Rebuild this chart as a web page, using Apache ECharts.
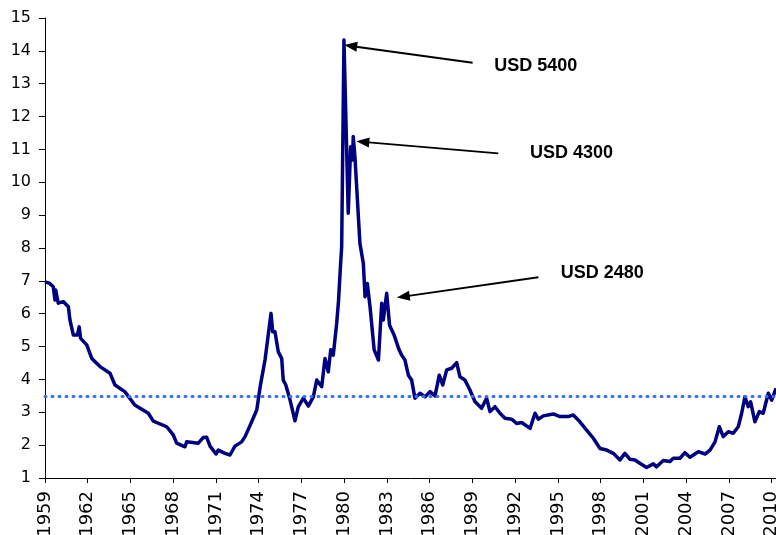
<!DOCTYPE html>
<html>
<head>
<meta charset="utf-8">
<script src="https://cdn.jsdelivr.net/npm/echarts@6/dist/echarts.min.js"></script>
<style>
  html, body { margin: 0; padding: 0; background: #fff; }
  #chart { width: 776px; height: 535px; }
</style>
</head>
<body>
<div id="chart"></div>
<script>
// Price ratio (decimal year, value)
const years = [
  1959.0, 1959.3, 1959.58, 1959.7, 1959.75, 1959.93, 1960.28, 1960.64, 1960.75, 1960.99,
  1961.27, 1961.4, 1961.5, 1961.93, 1962.28, 1962.86, 1963.56, 1963.91, 1964.6, 1965.3,
  1966.25, 1966.6, 1967.54, 1968.0, 1968.24, 1968.82, 1968.94, 1969.76, 1970.1, 1970.35,
  1970.58, 1971.0, 1971.16, 1971.63, 1971.98, 1972.33, 1972.8, 1973.04, 1973.4, 1973.86,
  1974.1, 1974.44, 1974.86, 1974.98, 1975.14, 1975.37, 1975.61, 1975.72, 1975.9, 1976.2,
  1976.54, 1976.78, 1977.13, 1977.48, 1977.83, 1978.07, 1978.42, 1978.65, 1978.88, 1979.05,
  1979.23, 1979.47, 1979.6, 1979.72, 1979.82, 1979.98, 1980.28, 1980.45, 1980.59, 1980.63,
  1980.75, 1981.1, 1981.34, 1981.46, 1981.62, 1981.81, 1982.1, 1982.4, 1982.63, 1982.74,
  1982.98, 1983.18, 1983.5, 1983.85, 1984.03, 1984.26, 1984.5, 1984.73, 1984.96, 1985.32,
  1985.67, 1986.02, 1986.37, 1986.67, 1986.91, 1987.19, 1987.54, 1987.89, 1988.12, 1988.47,
  1988.82, 1989.18, 1989.64, 1989.99, 1990.23, 1990.58, 1990.93, 1991.28, 1991.75, 1992.1,
  1992.45, 1993.04, 1993.39, 1993.62, 1993.97, 1994.67, 1995.14, 1995.72, 1996.07, 1996.54,
  1997.01, 1997.48, 1997.95, 1998.42, 1998.88, 1999.35, 1999.7, 2000.05, 2000.4, 2000.74,
  2001.22, 2001.69, 2001.92, 2002.39, 2002.86, 2003.09, 2003.56, 2003.91, 2004.26, 2004.85,
  2005.32, 2005.67, 2006.02, 2006.32, 2006.6, 2006.95, 2007.3, 2007.65, 2007.89, 2008.12,
  2008.35, 2008.52, 2008.82, 2009.13, 2009.4, 2009.76, 2010.0, 2010.3
]
const values = [
  6.97, 6.93, 6.82, 6.42, 6.72, 6.32, 6.37, 6.21, 5.81, 5.35,
  5.35, 5.6, 5.25, 5.05, 4.64, 4.39, 4.19, 3.83, 3.63, 3.22,
  2.97, 2.73, 2.56, 2.31, 2.06, 1.95, 2.1, 2.06, 2.23, 2.24,
  1.97, 1.73, 1.85, 1.75, 1.7, 1.97, 2.1, 2.26, 2.61, 3.07,
  3.78, 4.59, 6.01, 5.45, 5.45, 4.84, 4.64, 3.98, 3.83, 3.37,
  2.74, 3.17, 3.43, 3.19, 3.47, 3.98, 3.78, 4.64, 4.23, 4.9,
  4.74, 5.71, 6.4, 7.33, 8.04, 14.33, 9.06, 11.08, 10.68, 11.39,
  10.78, 8.14, 7.53, 6.52, 6.92, 6.21, 4.9, 4.59, 6.32, 5.81,
  6.62, 5.65, 5.35, 4.9, 4.74, 4.59, 4.13, 3.98, 3.43, 3.58,
  3.47, 3.63, 3.5, 4.13, 3.83, 4.29, 4.34, 4.51, 4.08, 3.98,
  3.68, 3.32, 3.12, 3.43, 3.02, 3.17, 2.97, 2.82, 2.79, 2.66,
  2.69, 2.51, 2.97, 2.79, 2.89, 2.95, 2.87, 2.87, 2.92, 2.71,
  2.46, 2.21, 1.9, 1.85, 1.75, 1.55, 1.75, 1.57, 1.55, 1.45,
  1.32, 1.43, 1.34, 1.53, 1.5, 1.6, 1.6, 1.77, 1.63, 1.8,
  1.73, 1.85, 2.1, 2.56, 2.26, 2.41, 2.36, 2.56, 2.97, 3.47,
  3.17, 3.32, 2.71, 3.02, 2.97, 3.58, 3.37, 3.73
]
const average = 3.5

// Annotation texts with arrow tail / tip in data coordinates
const noteLabels = ['USD 5400', 'USD 4300', 'USD 2480']
const noteTextAt = [[1990.53, 13.54], [1993.04, 10.88], [1995.19, 7.23]]
const arrowTail = [[1989.01, 13.64], [1990.81, 10.88], [1993.62, 7.11]]
const arrowTip = [[1980.45, 14.15], [1981.30, 11.23], [1984.14, 6.52]]

const FONT = 'DejaVu Sans'
const chart = echarts.init(document.getElementById('chart'), null, { renderer: 'canvas' })

chart.setOption({
  animation: false,
  grid: { left: 45, right: 0, top: 18, bottom: 57, containLabel: false, outerBoundsMode: 'none' },
  xAxis: {
    type: 'value',
    min: 1959,
    max: 2010.3,
    interval: 3,
    splitLine: { show: false },
    axisLine: { show: true, lineStyle: { color: '#000', width: 1 } },
    axisTick: { show: true, length: 5, lineStyle: { color: '#000' } },
    axisLabel: {
      rotate: 90,
      margin: 13,
      color: '#000',
      fontFamily: FONT,
      fontSize: 18,
      showMaxLabel: false,
      formatter: v => (Number.isInteger(v) && (v - 1959) % 3 === 0) ? String(v) : ''
    }
  },
  yAxis: {
    type: 'value',
    min: 1,
    max: 15,
    interval: 1,
    splitLine: { show: false },
    axisLine: { show: true, lineStyle: { color: '#000', width: 1 } },
    axisTick: { show: true, length: 6, lineStyle: { color: '#000' } },
    axisLabel: { margin: 14, color: '#000', fontFamily: FONT, fontSize: 16 }
  },
  series: [
    {
      type: 'line',
      data: years.map((y, i) => [y, values[i]]),
      showSymbol: false,
      lineStyle: { color: '#000080', width: 3.5, join: 'round' },
      z: 3,
      markLine: {
        silent: true,
        symbol: 'none',
        label: { show: false },
        lineStyle: { color: '#3d6cf5', width: 3, type: [1, 6], cap: 'round' },
        data: [{ yAxis: average }]
      }
    },
    {
      type: 'line',
      data: [],
      z: 4,
      markLine: {
        silent: true,
        symbol: ['none', 'triangle'],
        symbolSize: [10, 13],
        label: { show: false },
        lineStyle: { color: '#000', width: 2, type: 'solid' },
        data: arrowTail.map((t, i) => [{ coord: t }, { coord: arrowTip[i] }])
      },
      markPoint: {
        silent: true,
        symbol: 'circle',
        symbolSize: 0,
        label: {
          show: true,
          position: 'right',
          distance: 0,
          color: '#000',
          fontFamily: 'Liberation Sans',
          fontWeight: 'bold',
          fontSize: 18,
          formatter: p => p.name
        },
        data: noteLabels.map((n, i) => ({ name: n, coord: noteTextAt[i] }))
      }
    }
  ]
})
</script>
</body>
</html>
